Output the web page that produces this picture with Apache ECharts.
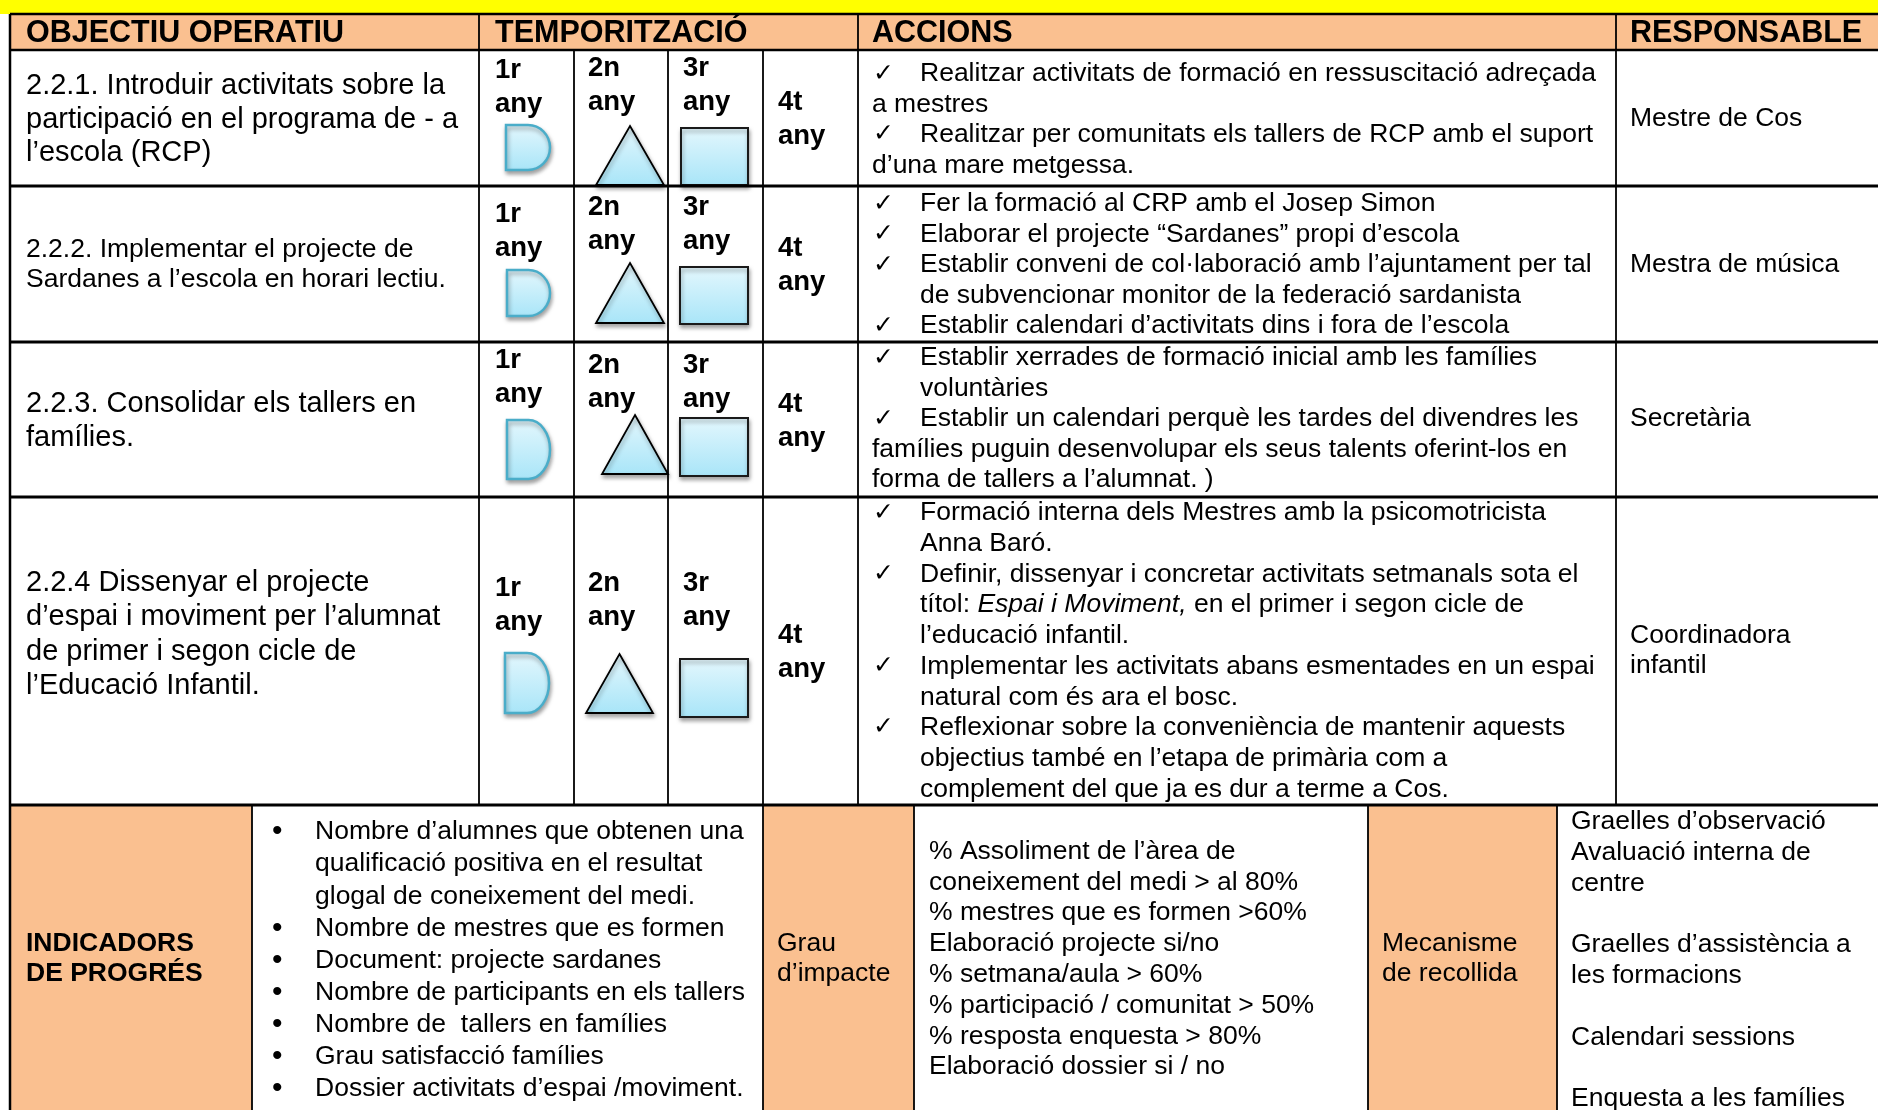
<!DOCTYPE html>
<html><head><meta charset="utf-8">
<script src="https://cdn.jsdelivr.net/npm/echarts@6/dist/echarts.min.js"></script>
<style>html,body{margin:0;padding:0;background:#fff}#c{width:1878px;height:1110px}</style>
</head><body><div id="c"></div>
<script>
// ---------- DATA ----------
const headers = ['OBJECTIU OPERATIU', 'TEMPORITZACIÓ', 'ACCIONS', 'RESPONSABLE'];
const objectius = [
  ['2.2.1. Introduir activitats sobre la', 'participació en el programa de - a', 'l’escola (RCP)'],
  ['2.2.2. Implementar el projecte de', 'Sardanes a l’escola en horari lectiu.'],
  ['2.2.3. Consolidar els tallers en', 'famílies.'],
  ['2.2.4 Dissenyar el projecte', 'd’espai i moviment per l’alumnat', 'de primer i segon cicle de', 'l’Educació Infantil.']
];
const yearLabels = [['1r', 'any'], ['2n', 'any'], ['3r', 'any'], ['4t', 'any']];
const yearShapes = ['D', 'triangle', 'square', null];
const accions = [
  [['Realitzar activitats de formació en ressuscitació adreçada', 'a mestres'],
   ['Realitzar per comunitats els tallers de RCP amb el suport', 'd’una mare metgessa.']],
  [['Fer la formació al CRP amb el Josep Simon'],
   ['Elaborar el projecte “Sardanes” propi d’escola'],
   ['Establir conveni de col·laboració amb l’ajuntament per tal', 'de subvencionar monitor de la federació sardanista'],
   ['Establir calendari d’activitats dins i fora de l’escola']],
  [['Establir xerrades de formació inicial amb les famílies', 'voluntàries'],
   ['Establir un calendari perquè les tardes del divendres les', 'famílies puguin desenvolupar els seus talents oferint-los en', 'forma de tallers a l’alumnat. )']],
  [['Formació interna dels Mestres amb la psicomotricista', 'Anna Baró.'],
   ['Definir, dissenyar i concretar activitats setmanals sota el', '{n|títol: }{i|Espai i Moviment,}{n| en el primer i segon cicle de}', 'l’educació infantil.'],
   ['Implementar les activitats abans esmentades en un espai', 'natural com és ara el bosc.'],
   ['Reflexionar sobre la conveniència de mantenir aquests', 'objectius també en l’etapa de primària com a', 'complement del que ja es dur a terme a Cos.']]
];
const responsables = [['Mestre de Cos'], ['Mestra de música'], ['Secretària'], ['Coordinadora', 'infantil']];
const indicadorsTitle = ['INDICADORS', 'DE PROGRÉS'];
const indicadors = [
  ['Nombre d’alumnes que obtenen una', 'qualificació positiva en el resultat', 'glogal de coneixement del medi.'],
  ['Nombre de mestres que es formen'],
  ['Document: projecte sardanes'],
  ['Nombre de participants en els tallers'],
  ['Nombre de  tallers en famílies'],
  ['Grau satisfacció famílies'],
  ['Dossier activitats d’espai /moviment.']
];
const grauTitle = ['Grau', 'd’impacte'];
const grauItems = ['% Assoliment de l’àrea de', 'coneixement del medi > al 80%', '% mestres que es formen >60%',
  'Elaboració projecte si/no', '% setmana/aula > 60%', '% participació / comunitat > 50%',
  '% resposta enquesta > 80%', 'Elaboració dossier si / no'];
const mecanismeTitle = ['Mecanisme', 'de recollida'];
const mecanismeItems = ['Graelles d’observació', 'Avaluació interna de', 'centre', '', 'Graelles d’assistència a',
  'les formacions', '', 'Calendari sessions', '', 'Enquesta a les famílies'];

// ---------- LAYOUT ----------
const FONT = '"Liberation Sans", Arial, sans-serif';
const ORANGE = '#FAC090', YELLOW = '#FFFF00';
const X = { left: 10, c1: 479, y2: 574, y3: 668, y4: 763, c2: 858, c3: 1616, right: 1878,
  b1: 252, b2: 763, b3: 914, b4: 1368, b5: 1557 };
const Y = { top: 14, head: 50, r1: 186, r2: 342, r3: 497, r4: 805, bottom: 1110 };
const yearX = [495, 588, 683, 778];
const yearY = [[70, 68, 68, 102], [214, 207, 207, 248], [360, 365, 365, 404], [588, 583, 583, 635]];
const yearStep = 34.7;
const shapeBoxes = [
  [[506, 125, 550, 170], [596, 126, 664, 185], [681, 128, 748, 185]],
  [[507, 270, 550, 316], [596, 263, 664, 323], [680, 267, 748, 324]],
  [[507, 420, 550, 479], [602, 415, 668, 474], [680, 418, 748, 476]],
  [[505, 653, 549, 713], [586, 654, 653, 713], [680, 659, 748, 717]]
];
const objLayout = [{ y: 86, step: 33.5, size: 29 }, { y: 250, step: 30, size: 26.5 }, { y: 404, step: 33.5, size: 29 }, { y: 583, step: 34.3, size: 29 }];
const actLayout = [{ y: 74, step: 30.4 }, { y: 204, step: 30.5 }, { y: 358, step: 30.5 }, { y: 513, step: 30.7 }];
const actHang = [[false, false], [true, true, true, true], [true, false], [true, true, true, true]];
const respY = [119, 265, 419, 636];

// ---------- RENDER ----------
function renderItem(params, api) {
  const P = (x, y) => api.coord([x, y]);
  const ch = [];
  const rect = (x0, y0, x1, y1, fill) => {
    const a = P(x0, y0), b = P(x1, y1);
    ch.push({ type: 'rect', shape: { x: a[0], y: a[1], width: b[0] - a[0], height: b[1] - a[1] }, style: { fill: fill } });
  };
  const line = (x0, y0, x1, y1, w) => {
    const a = P(x0, y0), b = P(x1, y1);
    ch.push({ type: 'line', shape: { x1: a[0], y1: a[1], x2: b[0], y2: b[1] }, style: { stroke: '#000', lineWidth: w } });
  };
  const text = (x, y, str, opt) => {
    const a = P(x, y);
    const st = Object.assign({ text: str, fill: '#000', fontFamily: FONT, fontSize: 26.5, align: 'left', verticalAlign: 'middle' }, opt || {});
    if (str.indexOf('{i|') >= 0) {
      st.rich = { n: { fontFamily: FONT, fontSize: st.fontSize, fill: '#000' }, i: { fontFamily: FONT, fontSize: st.fontSize, fontStyle: 'italic', fill: '#000' } };
    }
    ch.push({ type: 'text', x: a[0], y: a[1], style: st });
  };
  const grad = () => new echarts.graphic.LinearGradient(0, 0, 0, 1, [{ offset: 0, color: '#E4F7FD' }, { offset: 1, color: '#A8E5F8' }]);
  const shadow = { shadowBlur: 4, shadowColor: 'rgba(0,0,0,0.35)', shadowOffsetX: 1, shadowOffsetY: 3 };

  // fills
  rect(0, 0, X.right, Y.top, YELLOW);
  rect(X.left, Y.top, X.right, Y.head, ORANGE);
  rect(X.left, Y.r4, X.b1, Y.bottom, ORANGE);
  rect(X.b2, Y.r4, X.b3, Y.bottom, ORANGE);
  rect(X.b4, Y.r4, X.b5, Y.bottom, ORANGE);

  // shapes
  shapeBoxes.forEach((row) => {
    row.forEach((bx, k) => {
      const kind = yearShapes[k];
      const a = P(bx[0], bx[1]), b = P(bx[2], bx[3]);
      const x0 = a[0], y0 = a[1], x1 = b[0], y1 = b[1];
      if (kind === 'D') {
        const rx = (x1 - x0) * 0.5, ry = (y1 - y0) / 2, xm = x1 - rx, ym = (y0 + y1) / 2, kk = 0.5523;
        const d = `M${x0} ${y0} L${xm} ${y0} C${xm + kk * rx} ${y0} ${x1} ${ym - kk * ry} ${x1} ${ym} C${x1} ${ym + kk * ry} ${xm + kk * rx} ${y1} ${xm} ${y1} L${x0} ${y1} Z`;
        ch.push({ type: 'path', shape: { pathData: d }, style: Object.assign({ fill: grad(), stroke: '#4AADC9', lineWidth: 2.5 }, shadow) });
      } else if (kind === 'triangle') {
        ch.push({ type: 'polygon', shape: { points: [[(x0 + x1) / 2, y0], [x1, y1], [x0, y1]] }, style: Object.assign({ fill: grad(), stroke: '#000', lineWidth: 1.8 }, shadow) });
      } else if (kind === 'square') {
        ch.push({ type: 'rect', shape: { x: x0, y: y0, width: x1 - x0, height: y1 - y0 }, style: Object.assign({ fill: grad(), stroke: '#1a1a1a', lineWidth: 2 }, shadow) });
      }
    });
  });

  // grid lines
  [Y.top, Y.head].forEach(y => line(X.left, y, X.right, y, 2.5));
  [Y.r1, Y.r2, Y.r3, Y.r4].forEach(y => line(X.left, y, X.right, y, 3));
  line(X.left, Y.top, X.left, Y.bottom, 2.5);
  [X.c1, X.c2, X.c3].forEach(x => line(x, Y.top, x, Y.r4, 1.8));
  [X.y2, X.y3].forEach(x => line(x, Y.head, x, Y.r4, 1.8));
  line(X.y4, Y.head, X.y4, Y.bottom, 1.8);
  [X.b1, X.b3, X.b4, X.b5].forEach(x => line(x, Y.r4, x, Y.bottom, 1.8));

  // header
  const headX = [26, 495, 872, 1630];
  headers.forEach((h, i) => text(headX[i], 34, h, { fontSize: 30.5, fontWeight: 'bold' }));

  // rows
  for (let r = 0; r < 4; r++) {
    const ol = objLayout[r];
    objectius[r].forEach((s, j) => text(26, ol.y + j * ol.step, s, { fontSize: ol.size }));
    yearLabels.forEach((lab, k) => {
      lab.forEach((s, j) => text(yearX[k], yearY[r][k] + j * yearStep, s, { fontSize: 27.5, fontWeight: 'bold' }));
    });
    let li = 0;
    const al = actLayout[r];
    accions[r].forEach((item, it) => {
      item.forEach((s, j) => {
        const y = al.y + li * al.step;
        if (j === 0) text(873, y, '✓', { fontFamily: '"DejaVu Sans", sans-serif', fontSize: 25 });
        const x = (j === 0 || actHang[r][it]) ? 920 : 872;
        text(x, y, s);
        li++;
      });
    });
    responsables[r].forEach((s, j) => text(1630, respY[r] + j * 30, s));
  }

  // bottom row
  indicadorsTitle.forEach((s, j) => text(26, 944 + j * 30, s, { fontWeight: 'bold' }));
  let bi = 0;
  indicadors.forEach(item => {
    item.forEach((s, j) => {
      const y = 832 + bi * 32.1;
      if (j === 0) text(272, y, '•', { fontSize: 30 });
      text(315, y, s);
      bi++;
    });
  });
  grauTitle.forEach((s, j) => text(777, 944 + j * 30, s));
  grauItems.forEach((s, j) => text(929, 851.5 + j * 30.8, s));
  mecanismeTitle.forEach((s, j) => text(1382, 944 + j * 30, s));
  mecanismeItems.forEach((s, j) => { if (s) text(1571, 821.6 + j * 30.8, s); });

  return { type: 'group', children: ch };
}

const chart = echarts.init(document.getElementById('c'), null, { renderer: 'canvas' });
chart.setOption({
  animation: false,
  grid: { left: 0, right: 0, top: 0, bottom: 0 },
  xAxis: { type: 'value', min: 0, max: 1878, show: false },
  yAxis: { type: 'value', min: 0, max: 1110, inverse: true, show: false },
  series: [{ type: 'custom', coordinateSystem: 'cartesian2d', data: [[0, 0]], renderItem: renderItem, silent: true, clip: false }]
});
</script></body></html>
